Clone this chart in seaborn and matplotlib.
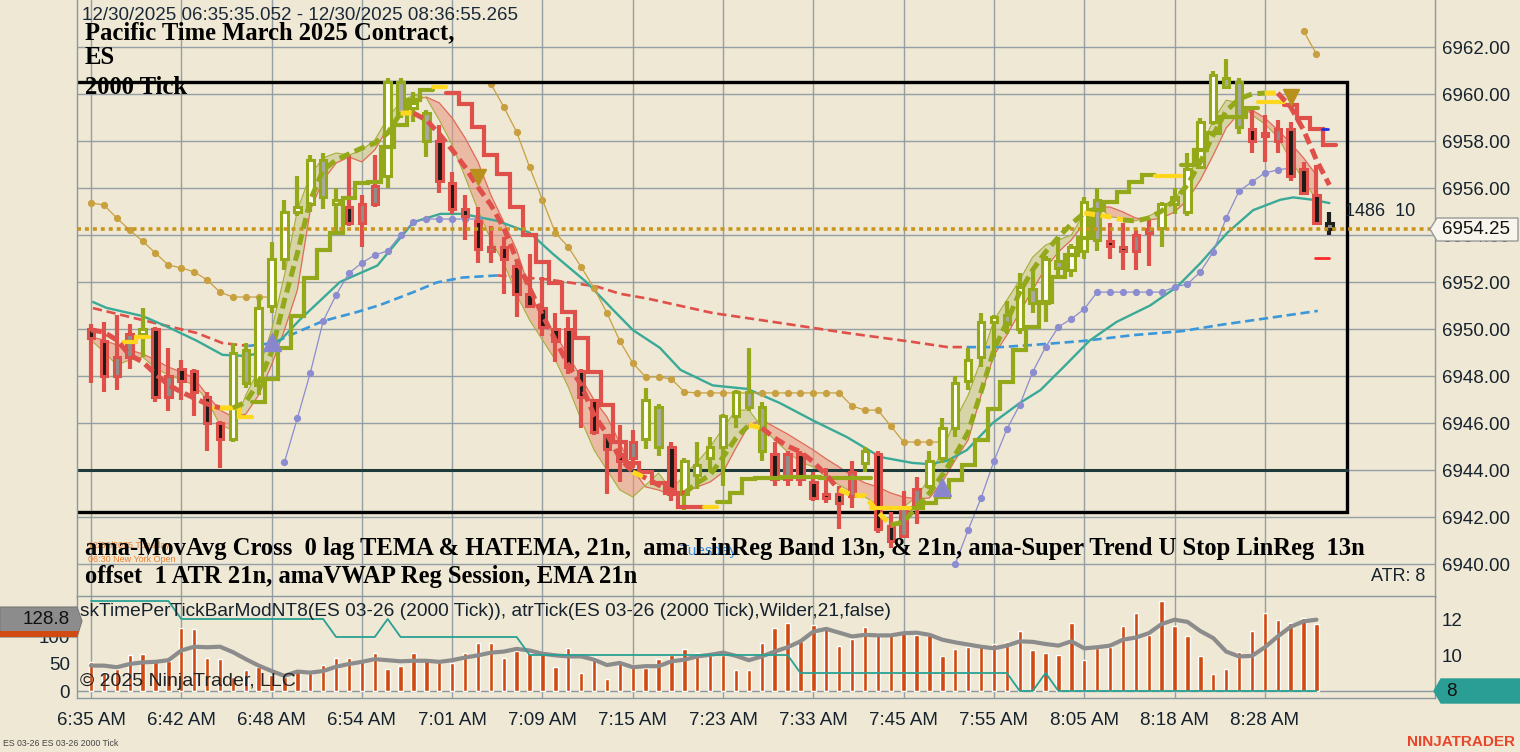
import numpy as np
import matplotlib
matplotlib.use("Agg")
import matplotlib.pyplot as plt
import seaborn as sns
from matplotlib.patches import Polygon

sns.set_theme(style="white")
plt.rcParams['font.family'] = ['Liberation Sans', 'DejaVu Sans']

nan = np.nan
# ---------------- data ----------------
time_labels = ['6:35 AM', '6:42 AM', '6:48 AM', '6:54 AM', '7:01 AM', '7:09 AM', '7:15 AM',
               '7:23 AM', '7:33 AM', '7:45 AM', '7:55 AM', '8:05 AM', '8:18 AM', '8:28 AM']
label_bars = [0, 7, 14, 21, 28, 35, 42, 49, 56, 63, 70, 77, 84, 91]
price_ticks = [6940, 6942, 6944, 6946, 6948, 6950, 6952, 6954, 6956, 6958, 6960, 6962]

opens = [6950.0, 6949.5, 6948.0, 6948.8, 6949.8, 6950.0, 6947.1, 6948.3, 6948.2, 6947.1,
         6946.0, 6945.3, 6949.1, 6947.6, 6951.0, 6953.0, 6955.0, 6955.3, 6957.2, 6955.3,
         6955.2, 6954.5, 6955.3, 6956.5, 6960.5, 6959.4, 6959.2, 6958.0, 6956.2, 6955.1,
         6954.6, 6953.3, 6953.5, 6952.7, 6951.5, 6950.9, 6950.0, 6950.0, 6948.2, 6947.0,
         6945.5, 6944.7, 6944.5, 6945.3, 6946.7, 6945.0, 6943.0, 6943.8, 6944.5, 6945.0,
         6946.3, 6947.3, 6946.7, 6944.7, 6943.6, 6944.7, 6943.5, 6943.0, 6943.0, 6942.9,
         6944.3, 6944.7, 6941.6, 6941.2, 6942.4, 6943.3, 6944.5, 6945.8, 6947.8, 6948.8,
         6950.3, 6950.6, 6950.0, 6951.7, 6951.1, 6952.9, 6952.5, 6953.3, 6955.5, 6953.75,
         6953.5, 6953.3, 6954.1, 6954.3, 6955.3, 6955.0, 6956.9, 6958.8, 6960.7, 6960.5,
         6958.5, 6958.3, 6958.0, 6958.5, 6956.8, 6955.7, 6954.5]
highs = [6950.2, 6950.3, 6950.6, 6950.2, 6950.9, 6950.1, 6949.2, 6948.7, 6948.3, 6947.3,
         6946.1, 6949.4, 6949.4, 6951.4, 6953.7, 6955.5, 6956.5, 6957.4, 6957.5, 6956.0,
         6957.4, 6955.7, 6957.4, 6960.7, 6960.7, 6960.1, 6959.3, 6958.7, 6956.7, 6955.7,
         6955.2, 6954.4, 6953.9, 6953.0, 6953.2, 6952.2, 6950.7, 6950.5, 6948.3, 6947.0,
         6945.5, 6945.9, 6945.7, 6947.5, 6946.8, 6945.2, 6944.5, 6945.2, 6945.4, 6946.4,
         6947.4, 6949.2, 6946.9, 6945.2, 6944.8, 6944.8, 6943.9, 6944.1, 6943.3, 6944.4,
         6945.0, 6944.8, 6942.2, 6943.1, 6943.7, 6944.8, 6946.2, 6948.0, 6949.2, 6950.7,
         6950.6, 6951.2, 6952.4, 6952.5, 6953.1, 6953.9, 6953.6, 6955.6, 6956.0, 6954.5,
         6954.5, 6954.2, 6954.7, 6955.4, 6956.0, 6957.5, 6959.0, 6961.0, 6961.5, 6960.7,
         6959.4, 6959.1, 6958.9, 6958.8, 6957.1, 6957.0, 6955.0]
lows = [6947.7, 6947.3, 6947.4, 6948.3, 6948.8, 6946.9, 6946.5, 6947.0, 6946.3, 6944.8,
        6944.1, 6945.2, 6947.5, 6947.2, 6950.7, 6952.5, 6954.8, 6955.0, 6955.1, 6954.1,
        6954.4, 6953.5, 6955.2, 6956.0, 6959.0, 6958.8, 6957.3, 6955.8, 6954.9, 6953.8,
        6952.8, 6952.8, 6951.5, 6950.5, 6950.9, 6949.7, 6948.6, 6948.1, 6945.8, 6945.5,
        6943.0, 6943.5, 6944.1, 6944.9, 6944.6, 6942.7, 6942.3, 6943.2, 6943.9, 6943.3,
        6945.8, 6946.5, 6944.4, 6943.3, 6943.3, 6943.3, 6942.7, 6942.6, 6941.5, 6942.4,
        6943.9, 6941.3, 6940.7, 6941.1, 6941.7, 6943.2, 6944.3, 6945.4, 6947.4, 6948.4,
        6948.8, 6949.8, 6949.8, 6950.7, 6950.3, 6952.2, 6952.2, 6953.0, 6953.3, 6953.0,
        6952.5, 6952.5, 6952.7, 6953.5, 6954.9, 6954.8, 6956.8, 6958.7, 6960.2, 6958.3,
        6957.5, 6957.1, 6957.5, 6956.3, 6955.8, 6954.5, 6954.0]
closes = [6949.6, 6948.0, 6948.8, 6949.8, 6950.0, 6947.1, 6948.0, 6947.8, 6947.3, 6946.0,
          6945.3, 6949.0, 6947.7, 6950.9, 6953.0, 6955.0, 6955.2, 6957.2, 6955.6, 6955.5,
          6954.5, 6955.3, 6956.1, 6960.5, 6959.2, 6959.6, 6958.0, 6956.3, 6955.1, 6954.8,
          6953.4, 6953.5, 6953.0, 6951.5, 6951.0, 6950.1, 6949.5, 6948.4, 6947.1, 6945.6,
          6944.9, 6944.4, 6945.2, 6947.0, 6945.0, 6943.0, 6944.4, 6944.2, 6945.0, 6946.3,
          6947.3, 6946.7, 6944.8, 6943.6, 6944.7, 6943.6, 6942.8, 6942.8, 6942.6, 6943.9,
          6944.8, 6941.5, 6941.0, 6942.4, 6943.2, 6944.4, 6945.8, 6947.7, 6948.7, 6950.3,
          6950.5, 6950.2, 6951.8, 6951.1, 6953.0, 6952.6, 6953.5, 6955.4, 6953.8, 6953.55,
          6953.3, 6954.0, 6954.25, 6955.3, 6955.6, 6956.8, 6958.8, 6960.8, 6960.3, 6958.6,
          6958.0, 6958.2, 6958.5, 6956.5, 6955.8, 6954.5, 6954.25]
# candle outline trend: g=up (olive), r=down (red), k=current bar
candle_trend = ('rrrr' + 'g' + 'rrrrrr' + 'ggggggggg' + 'rrr' + 'gggg' + 'r' * 16 + 'gg' + 'r'
                + 'ggggggg' + 'rrrrrrr' + 'g' + 'rrrr' + 'g' * 14 + 'rrrr' + 'ggggggg' + 'rrrrrr' + 'k')

# Super Trend U stop (thick step line)
stop_val = [nan, nan, nan, 6949.45, 6949.66, nan, nan, nan, nan, nan,
            6946.64, 6946.64, 6946.26, 6946.89, 6947.87, 6949.19, 6950.55, 6952.17, 6953.36, 6954.09,
            6955.57, 6956.21, 6956.26, 6957.74, 6958.68, 6959.74, 6960.17, 6960.30, 6960.04, 6959.57,
            6958.60, 6957.40, 6956.60, 6955.19, 6954.00, 6952.85, 6951.96, 6950.72, 6949.62, 6948.17,
            6946.77, 6945.19, 6944.30, 6943.91, 6943.45, 6943.02, 6942.43, 6942.43, 6942.43, 6942.64,
            6943.02, 6943.62, 6943.66, 6943.66, 6943.70, 6943.70, 6943.70, 6943.66, 6943.66, 6943.66,
            6943.66, 6942.38, 6942.38, 6942.38, 6942.38, 6942.60, 6942.85, 6943.57, 6944.21, 6945.28,
            6946.60, 6947.74, 6949.11, 6950.09, 6951.15, 6952.21, 6953.15, 6953.87, 6955.06, 6955.40,
            6955.83, 6956.26, 6956.55, 6956.51, 6956.51, 6956.98, 6957.62, 6958.34, 6959.02, 6959.02,
            6959.40, 6959.66, 6959.66, 6959.53, 6958.98, 6958.51, 6957.83]
stop_col = ('...' + 'yy' + '.....' + 'yyy' + 'g' * 14 + 'y' + 'r' * 20 + 'y' + 'g' * 12 + 'yyy'
            + 'g' * 19 + 'yy' + 'g' * 6 + 'yy' + 'rrrr')

# MovAvg cross (thick dashed)
tema = [6949.96, 6949.87, 6949.53, 6948.89, 6948.60, 6948.09, 6947.62, 6947.32, 6947.06, 6946.81,
        6946.64, 6946.64, 6946.89, 6947.74, 6949.02, 6951.23, 6953.23, 6955.49, 6956.77, 6957.19,
        6957.45, 6957.70, 6957.91, 6958.34, 6959.19, 6959.19, 6958.89, 6958.30, 6957.62, 6956.89,
        6956.04, 6955.28, 6954.30, 6952.94, 6951.74, 6950.60, 6949.53, 6948.47, 6947.62, 6946.34,
        6945.53, 6944.51, 6943.91, 6943.66, 6943.36, 6943.15, 6943.02, 6943.45, 6943.79, 6944.55,
        6945.36, 6945.91, 6945.79, 6945.36, 6945.02, 6944.77, 6944.34, 6943.79, 6943.15, 6942.94,
        6942.89, 6942.21, 6941.66, 6941.79, 6942.43, 6943.02, 6943.79, 6944.64, 6945.62, 6947.32,
        6949.11, 6950.30, 6951.57, 6952.51, 6953.28, 6953.91, 6954.47, 6954.94, 6954.85, 6954.77,
        6954.64, 6954.60, 6954.72, 6955.02, 6955.49, 6956.13, 6957.11, 6958.26, 6959.28, 6959.79,
        6960.00, 6960.04, 6960.04, 6959.45, 6958.47, 6957.19, 6956.13]
tema_col = ('r' * 10 + 'y' + 'g' * 13 + 'y' + 'r' * 17 + 'y' + 'rrr' + 'ggggg' + 'y' + 'rrrrrr'
            + 'yyyy' + 'g' * 15 + 'yyy' + 'g' * 11 + 'y' + 'rrrrr')

# LinReg band edges
band_red = [6949.66, 6949.53, 6949.32, 6949.11, 6948.94, 6948.68, 6948.38, 6948.17, 6947.91, 6947.19,
            6946.55, 6946.26, 6946.38, 6947.19, 6948.47, 6949.96, 6951.66, 6955.06, 6956.34, 6957.06,
            6957.32, 6957.11, 6957.62, 6958.55, 6959.23, 6959.74, 6959.87, 6959.62, 6958.98, 6958.13,
            6957.11, 6955.70, 6954.55, 6953.36, 6951.66, 6950.38, 6949.74, 6948.89, 6947.91, 6946.98,
            6946.26, 6945.15, 6944.00, 6943.28, 6943.15, 6942.94, 6943.06, 6943.28, 6943.49, 6943.91,
            6944.94, 6945.91, 6946.13, 6945.83, 6945.53, 6945.19, 6944.85, 6944.47, 6944.13, 6943.74,
            6943.45, 6943.28, 6943.02, 6942.85, 6942.77, 6942.81, 6943.49, 6944.43, 6945.28, 6947.19,
            6948.89, 6949.74, 6950.72, 6951.66, 6952.60, 6953.28, 6953.79, 6954.51, 6955.19, 6955.19,
            6954.98, 6954.72, 6954.64, 6954.72, 6954.98, 6955.49, 6956.34, 6957.40, 6958.55, 6959.19,
            6959.32, 6958.98, 6958.47, 6957.91, 6957.28, 6956.55, nan]
band_olive = [6949.53, 6949.02, 6948.47, 6948.68, 6948.81, 6948.34, 6948.04, 6947.83, 6947.62, 6946.98,
              6945.91, 6945.70, 6947.19, 6948.26, 6949.96, 6952.30, 6955.06, 6956.55, 6957.28, 6957.49,
              6957.40, 6957.62, 6958.04, 6958.98, 6959.66, 6959.96, 6959.83, 6958.89, 6957.83, 6956.47,
              6955.06, 6953.79, 6952.81, 6951.45, 6950.38, 6949.53, 6948.68, 6947.53, 6946.13, 6944.85,
              6944.00, 6943.15, 6942.85, 6943.36, 6943.87, 6943.15, 6943.79, 6944.34, 6944.98, 6945.79,
              6946.55, 6946.55, 6945.83, 6945.28, 6944.77, 6944.34, 6944.13, 6943.70, 6943.36, 6943.06,
              6942.85, 6942.51, 6942.30, 6942.43, 6942.85, 6943.66, 6944.85, 6946.13, 6947.19, 6948.68,
              6950.38, 6951.23, 6952.09, 6953.06, 6953.57, 6953.79, 6954.00, 6954.94, 6955.28, 6954.77,
              6954.72, 6954.60, 6954.81, 6955.06, 6955.49, 6956.34, 6957.62, 6958.89, 6959.74, 6959.62,
              6959.11, 6958.72, 6958.17, 6957.19, 6956.34, 6955.49, nan]

# EMA 21 (teal)
ema_bar = [0.15, 1.2, 4.0, 5.9, 8.2, 10.2, 12.1, 13.1, 14.65, 16.2, 19.3, 22.2, 25.0, 27.1, 28.8,
           31.5, 34.0, 35.8, 38.4, 40.5, 42.0, 44.1, 45.7, 48.2, 50.9, 53.4, 56.0, 58.6, 61.2, 63.7,
           65.0, 66.4, 67.9, 69.9, 72.0, 73.6, 75.7, 77.4, 79.5, 82.1, 84.2, 86.0, 88.1, 90.1, 92.2,
           93.2, 94.7, 96.0]
ema_val = [6951.15, 6950.9, 6950.55, 6950.1, 6949.5, 6948.9, 6948.85, 6949.0, 6949.5, 6950.4, 6952.0,
           6952.7, 6954.55, 6954.9, 6954.9, 6954.6, 6954.1, 6953.2, 6952.0, 6950.8, 6949.96, 6949.2,
           6948.26, 6947.6, 6947.45, 6946.85, 6946.1, 6945.4, 6944.55, 6944.3, 6944.25, 6944.4,
           6944.85, 6946.0, 6946.85, 6947.4, 6948.55, 6949.5, 6950.3, 6951.0, 6951.8, 6952.8, 6954.1,
           6955.06, 6955.5, 6955.6, 6955.5, 6955.36]

# VWAP regression session (red falling / blue rising)
vwap_bar = [0.15, 4.0, 8.2, 10.2, 12.2, 14.1, 16.0, 18.0, 20.6, 22.4, 25.0, 26.8, 28.8, 31.5, 35.4,
            39.2, 41.0, 43.1, 48.2, 53.4, 58.6, 63.7, 66.4, 67.9, 70.5, 73.0, 76.9, 80.8, 84.6, 87.5, 95.1]
vwap_val = [6950.89, 6950.38, 6949.83, 6949.40, 6949.28, 6949.40, 6949.87, 6950.34, 6950.72, 6951.02,
            6951.57, 6951.98, 6952.19, 6952.28, 6952.11, 6951.81, 6951.50, 6951.30, 6950.68, 6950.26,
            6949.83, 6949.45, 6949.23, 6949.23, 6949.23, 6949.32, 6949.49, 6949.74, 6949.91, 6950.17,
            6950.77]
vwap_col = 'rrrrr' + 'bbbbbbbbb' + 'rrrrrrrrrr' + 'bbbbbbb'

# Super Trend dots (o = gold above price, l = lavender below price)
st_val = [6955.36, 6955.28, 6954.72, 6954.21, 6953.74, 6953.23, 6952.72, 6952.60, 6952.43, 6952.09,
          6951.57, 6951.36, 6951.36, 6951.36, 6951.36, 6944.34, 6946.21, 6948.13, 6950.34, 6951.45,
          6952.38, 6952.81, 6953.15, 6953.32, 6954.00, 6954.55, 6954.68, 6954.68, 6954.68, 6954.68,
          6954.68, 6960.43, 6959.45, 6958.38, 6956.89, 6955.49, 6954.09, 6953.49, 6952.64, 6951.74,
          6950.68, 6949.49, 6948.55, 6947.96, 6947.96, 6947.87, 6947.32, 6947.28, 6947.28, 6947.28,
          6947.28, 6947.28, 6947.28, 6947.28, 6947.28, 6947.28, 6947.28, 6947.28, 6947.28, 6946.72,
          6946.55, 6946.55, 6945.87, 6945.19, 6945.19, 6945.19, 6945.19, 6940.00, 6941.45, 6942.81,
          6944.38, 6945.74, 6946.77, 6948.17, 6949.23, 6950.09, 6950.43, 6950.85, 6951.57, 6951.57,
          6951.57, 6951.57, 6951.57, 6951.57, 6951.79, 6951.91, 6952.43, 6953.28, 6954.72, 6955.87,
          6956.26, 6956.64, 6956.77, 6956.85, 6962.68, 6961.70, nan]
st_col = 'o' * 15 + 'l' * 16 + 'o' * 36 + 'l' * 27 + 'oo' + '.'

tri_up_bar = [14, 66]
tri_up_val = [6949.45, 6943.28]
tri_dn_bar = [30, 93]
tri_dn_val = [6956.47, 6959.87]

box_top, box_bottom, box_right = 6960.51, 6942.21, 97.36
level_line = 6944.0
last_price = 6954.25
mark_blue, mark_red = 6958.51, 6953.02

# lower panel
vol = [53, 36, 40, 66, 69, 54, 56, 117, 114, 62,
       59, 25, 38, 45, 30, 25, 39, 34, 49, 61,
       62, 56, 71, 40, 46, 70, 59, 53, 52, 71,
       88, 88, 62, 74, 70, 69, 45, 80, 34, 63,
       22, 55, 49, 43, 60, 67, 77, 71, 66, 67,
       39, 39, 89, 117, 125, 92, 122, 116, 84, 96,
       119, 108, 107, 107, 104, 104, 64, 77, 81, 86,
       87, 91, 112, 76, 71, 67, 125, 57, 79, 82,
       120, 145, 104, 166, 121, 102, 64, 32, 41, 73,
       112, 145, 132, 125, 136, 124]
vol_avg = [47, 47, 44, 50, 53, 54, 57, 75, 82, 81,
           82, 72, 59, 47, 37, 28, 36, 34, 37, 45,
           50, 54, 59, 57, 55, 56, 56, 54, 57, 62,
           66, 71, 73, 78, 75, 69, 66, 64, 64, 58,
           48, 52, 44, 46, 46, 55, 58, 64, 67, 71,
           65, 57, 64, 73, 81, 92, 110, 115, 108, 101,
           104, 103, 103, 107, 108, 104, 95, 90, 86, 82,
           79, 84, 92, 91, 87, 84, 92, 79, 81, 84,
           95, 99, 107, 124, 132, 128, 111, 98, 73, 64,
           65, 81, 101, 119, 129, 132]
atr = [13, 13, 13, 13, 13, 13, 13, 12, 12, 12,
       12, 12, 12, 12, 12, 12, 12, 12, 12, 11,
       11, 11, 11, 12, 11, 11, 11, 11, 11, 11,
       11, 11, 11, 11, 10, 10, 10, 10, 10, 10,
       10, 10, 10, 10, 10, 10, 10, 10, 10, 10,
       10, 10, 10, 10, 10, 9, 9, 9, 9, 9,
       9, 9, 9, 9, 9, 9, 9, 9, 9, 9,
       9, 9, 8, 8, 9, 8, 8, 8, 8, 8,
       8, 8, 8, 8, 8, 8, 8, 8, 8, 8,
       8, 8, 8, 8, 8, 8]

# ---------------- style ----------------
BG = '#EFE8D4'
GRID = '#8A98A0'
OLIVE = '#93A91A'
RED = '#E0504A'
YELLOW = '#FFD81E'
TXT = '#16222E'
W, H = 1520, 752

def fx(px):
    return px / W

def fy(py):
    return 1 - py / H

def runs(codes, key):
    out, cur = [], []
    for i, ch in enumerate(codes):
        if ch == key:
            cur.append(i)
        else:
            if cur:
                out.append(cur)
            cur = []
    if cur:
        out.append(cur)
    return out

n = len(opens)
idx = np.arange(n)
XL = (-1.085, 104.19)

fig = plt.figure(figsize=(15.2, 7.52), dpi=100, facecolor=BG)
ax = fig.add_axes([fx(77), 155 / H, 1358 / W, 597 / H])
ax.set_facecolor(BG)
ax.set_xlim(*XL)
ax.set_ylim(6938.596, 6964.0)
ax.set_xticks(label_bars)
ax.set_yticks(price_ticks)
ax.set_yticklabels([f'{p:.2f}' for p in price_ticks])
ax.yaxis.tick_right()
ax.tick_params(axis='y', length=0, pad=5, labelsize=13.5, labelcolor=TXT)
ax.tick_params(axis='x', length=0, labelbottom=False)
ax.grid(True, color=GRID, lw=1.0, alpha=0.9)
ax.set_axisbelow(True)
ax.spines['top'].set_visible(False)
for s in ['left', 'right', 'bottom']:
    ax.spines[s].set_color(GRID)
    ax.spines[s].set_linewidth(1.0)

# LinReg band
br = np.array(band_red)
bo = np.array(band_olive)
ax.fill_between(idx, br, bo, where=br > bo, interpolate=True, color='#E8957F', alpha=0.55, lw=0, zorder=1)
ax.fill_between(idx, br, bo, where=bo >= br, interpolate=True, color='#C4C682', alpha=0.55, lw=0, zorder=1)
ax.plot(idx, br, color='#E06A58', lw=0.9, zorder=1.2)
ax.plot(idx, bo, color='#A6AE3A', lw=0.8, zorder=1.2)

# VWAP
vb = np.array(vwap_bar)
vv = np.array(vwap_val)
for key, colr in [('r', '#E0504A'), ('b', '#3A98DA')]:
    m = np.array([(vwap_col[k] == key) or (k + 1 < len(vwap_col) and vwap_col[k + 1] == key)
                  for k in range(len(vwap_col))])
    ax.plot(vb, np.where(m, vv, np.nan), color=colr, lw=1.9, dashes=(3.5, 1.8), zorder=1.5)

# EMA 21
sns.lineplot(x=ema_bar, y=ema_val, ax=ax, color='#3AAA98', lw=1.7, zorder=1.6, sort=False)

# Super trend dotted
stv = np.array(st_val)
for key, colr in [('o', '#C8A040'), ('l', '#8C8CD0')]:
    for run in runs(st_col, key):
        ax.plot(run, stv[run], color=colr, lw=0.9, marker='o', ms=4.2, mfc=colr, mec=colr, zorder=1.7)

# box & level line
ax.plot([XL[0] - 3, box_right, box_right, XL[0] - 3], [box_top, box_top, box_bottom, box_bottom],
        color='black', lw=2.4, zorder=2, solid_joinstyle='miter')
ax.plot([XL[0] - 3, box_right], [level_line, level_line], color='#1E3A3A', lw=2.2, zorder=2)

# candles
edges, fills = [], []
for i in range(n):
    t = candle_trend[i]
    up = closes[i] >= opens[i]
    if t == 'g':
        edges.append(OLIVE)
        fills.append('#FFFFF2' if up else '#A9A9A2')
    elif t == 'r':
        edges.append(RED)
        fills.append('#1E1A16' if closes[i] <= opens[i] else '#8E8E8A')
    else:
        edges.append('#1E1E1E')
        fills.append('#8E9090')
ax.vlines(idx, lows, highs, colors=edges, lw=3.0, zorder=3)
body_lo = np.minimum(opens, closes)
body_h = np.maximum(np.abs(np.array(closes) - np.array(opens)), 0.12)
ax.bar(idx, body_h, bottom=body_lo, width=0.5, color=fills, edgecolor=edges, linewidth=2.2, zorder=3.1)

# gold dotted last price
ax.axhline(last_price, color='#C8961E', lw=2.6, dashes=(1.1, 1.1), zorder=4.5)

# stop step lines
sv = np.array(stop_val)
for key, colr in [('g', OLIVE), ('r', RED), ('y', YELLOW)]:
    for run in runs(stop_col, key):
        xs, ys = [], []
        for k in run:
            xs += [k - 0.5, k + 0.5]
            ys += [sv[k], sv[k]]
        ax.plot(xs, ys, color=colr, lw=3.0, zorder=4, solid_joinstyle='miter')

# MovAvg cross dashed
tv = np.array(tema)
for key, colr in [('g', OLIVE), ('r', RED), ('y', YELLOW)]:
    m = np.array([(tema_col[i] == key) or (i > 0 and tema_col[i - 1] == key) for i in range(n)])
    ax.plot(idx, np.where(m, tv, np.nan), color=colr, lw=3.6, dashes=(2.2, 1.1), zorder=5)

# triangles
ax.plot(tri_up_bar, tri_up_val, ls='none', marker='^', ms=13, color='#8A86CE', zorder=6)
ax.plot(tri_dn_bar, tri_dn_val, ls='none', marker='v', ms=12, color='#B8901C', zorder=6)

# small marks at right
ax.plot([95.4, 95.9], [mark_blue, mark_blue], color='#2030E0', lw=2, zorder=6)
ax.plot([94.9, 96.0], [mark_red, mark_red], color='#FF2A2A', lw=2, zorder=6)
ax.text(97.2, 6955.02, '1486  10', fontsize=13, color=TXT, va='center', ha='left', zorder=7)
ax.text(0.9926, 0.034, 'ATR: 8', transform=ax.transAxes, fontsize=13, color=TXT, ha='right', va='center')

# last price label
fig.add_artist(Polygon([(fx(1430), fy(229)), (fx(1437), fy(218)), (fx(1518), fy(218)),
                        (fx(1518), fy(241)), (fx(1437), fy(241))], closed=True,
                       transform=fig.transFigure, facecolor='#F8F5EC', edgecolor='#9A9A9A', lw=1))
fig.text(fx(1442), fy(230), f'{last_price:.2f}', fontsize=13.5, color='#111111', va='center', ha='left')

# ---------------- lower panel ----------------
ax2 = fig.add_axes([fx(77), 54 / H, 1358 / W, 102 / H])
ax2.set_facecolor(BG)
ax2.set_xlim(*XL)
ax2.set_ylim(-12.96, 175.9)
idx2 = np.arange(len(vol))
ax2.bar(idx2, vol, width=0.34, color='#D04A12', zorder=2)
sns.lineplot(x=idx2, y=vol_avg, ax=ax2, color='#8C8C8C', lw=3.0, zorder=3)
ax2.axhline(0, color=GRID, lw=1.0, zorder=1)
ax2.set_xticks(label_bars)
ax2.set_xticklabels(time_labels)
ax2.set_yticks([0, 50, 100])
ax2.tick_params(axis='x', length=4, color=GRID, pad=6, labelsize=13.5, labelcolor=TXT)
ax2.tick_params(axis='y', length=0, pad=5, labelsize=13.5, labelcolor=TXT)
ax2.grid(True, axis='x', color=GRID, lw=1.0, alpha=0.9)
ax2.set_axisbelow(True)
ax2.set_xlabel('')
ax2.set_ylabel('')
for s in ax2.spines.values():
    s.set_color(GRID)
    s.set_linewidth(1.0)

ax2r = ax2.twinx()
ax2r.set_ylim(7.611, 13.278)
sns.lineplot(x=idx2, y=atr, ax=ax2r, color='#2AA094', lw=1.3)
ax2r.set_yticks([10, 12])
ax2r.tick_params(axis='y', length=0, pad=5, labelsize=13.5, labelcolor=TXT)
ax2r.set_ylabel('')
for s in ax2r.spines.values():
    s.set_visible(False)

# value boxes in lower panel
fig.add_artist(Polygon([(fx(0), fy(607)), (fx(77), fy(607)), (fx(82), fy(621)), (fx(77), fy(637)),
                        (fx(0), fy(637))], closed=True, transform=fig.transFigure,
                       facecolor='#8C8C8C', edgecolor='#7A7A7A', lw=0.8, zorder=10))
fig.add_artist(Polygon([(fx(0), fy(631)), (fx(79), fy(631)), (fx(77), fy(637)), (fx(0), fy(637))],
                       closed=True, transform=fig.transFigure, facecolor='#D04A12', lw=0, zorder=10))
fig.text(fx(70), fy(619), '128.8', fontsize=13.5, color='#111111', ha='right', va='center', zorder=11)
fig.add_artist(Polygon([(fx(1434), fy(691)), (fx(1441), fy(679)), (fx(1520), fy(679)),
                        (fx(1520), fy(703)), (fx(1441), fy(703))], closed=True,
                       transform=fig.transFigure, facecolor='#2A9D94', edgecolor='#2A9D94', lw=1, zorder=10))
fig.text(fx(1446), fy(691), '8', fontsize=13.5, color='#111111', ha='left', va='center', zorder=11)

# ---------------- texts ----------------
SERIF = ['Liberation Serif', 'DejaVu Serif']
TS = 17.7
fig.text(fx(82), fy(15), '12/30/2025 06:35:35.052 - 12/30/2025 08:36:55.265', fontsize=13.5,
         color='#1A2838', va='center', ha='left')
fig.text(fx(85), fy(33), 'Pacific Time March 2025 Contract,', fontsize=TS, family=SERIF,
         fontweight='bold', color='black', va='center', ha='left')
fig.text(fx(85), fy(58), 'ES', fontsize=TS, family=SERIF, fontweight='bold', color='black',
         va='center', ha='left')
fig.text(fx(85), fy(87), '2000 Tick', fontsize=TS, family=SERIF, fontweight='bold', color='black',
         va='center', ha='left')
fig.text(fx(88), fy(546), '12/30/2025 Tuesday', fontsize=6.5, color='#F08030', va='center', ha='left')
fig.text(fx(88), fy(559), '06:30 New York Open', fontsize=6.5, color='#F08030', va='center', ha='left')
fig.text(fx(680), fy(551), 'Tuesday', fontsize=11, color='#3A8EE6', va='center', ha='left')
fig.text(fx(85), fy(548),
         'ama-MovAvg Cross  0 lag TEMA & HATEMA, 21n,  ama LinReg Band 13n, & 21n, ama-Super Trend U Stop LinReg  13n',
         fontsize=TS, family=SERIF, fontweight='bold', color='black', va='center', ha='left', zorder=12)
fig.text(fx(85), fy(576), 'offset  1 ATR 21n, amaVWAP Reg Session, EMA 21n', fontsize=TS,
         family=SERIF, fontweight='bold', color='black', va='center', ha='left', zorder=12)
fig.text(fx(80), fy(612),
         'skTimePerTickBarModNT8(ES 03-26 (2000 Tick)), atrTick(ES 03-26 (2000 Tick),Wilder,21,false)',
         fontsize=13.8, color=TXT, va='center', ha='left', zorder=12)
fig.text(fx(80), fy(681), '\u00a9 2025 NinjaTrader, LLC', fontsize=14, color='#222222', va='center',
         ha='left', zorder=12)
fig.text(fx(3), fy(743), 'ES 03-26 ES 03-26 2000 Tick', fontsize=6.3, color='#444444', va='center', ha='left')
fig.text(fx(1515), fy(742), 'NINJATRADER', fontsize=11, fontweight='bold', color='#E8452A',
         va='center', ha='right')

fig.savefig('out.png', dpi=100, facecolor=BG)
